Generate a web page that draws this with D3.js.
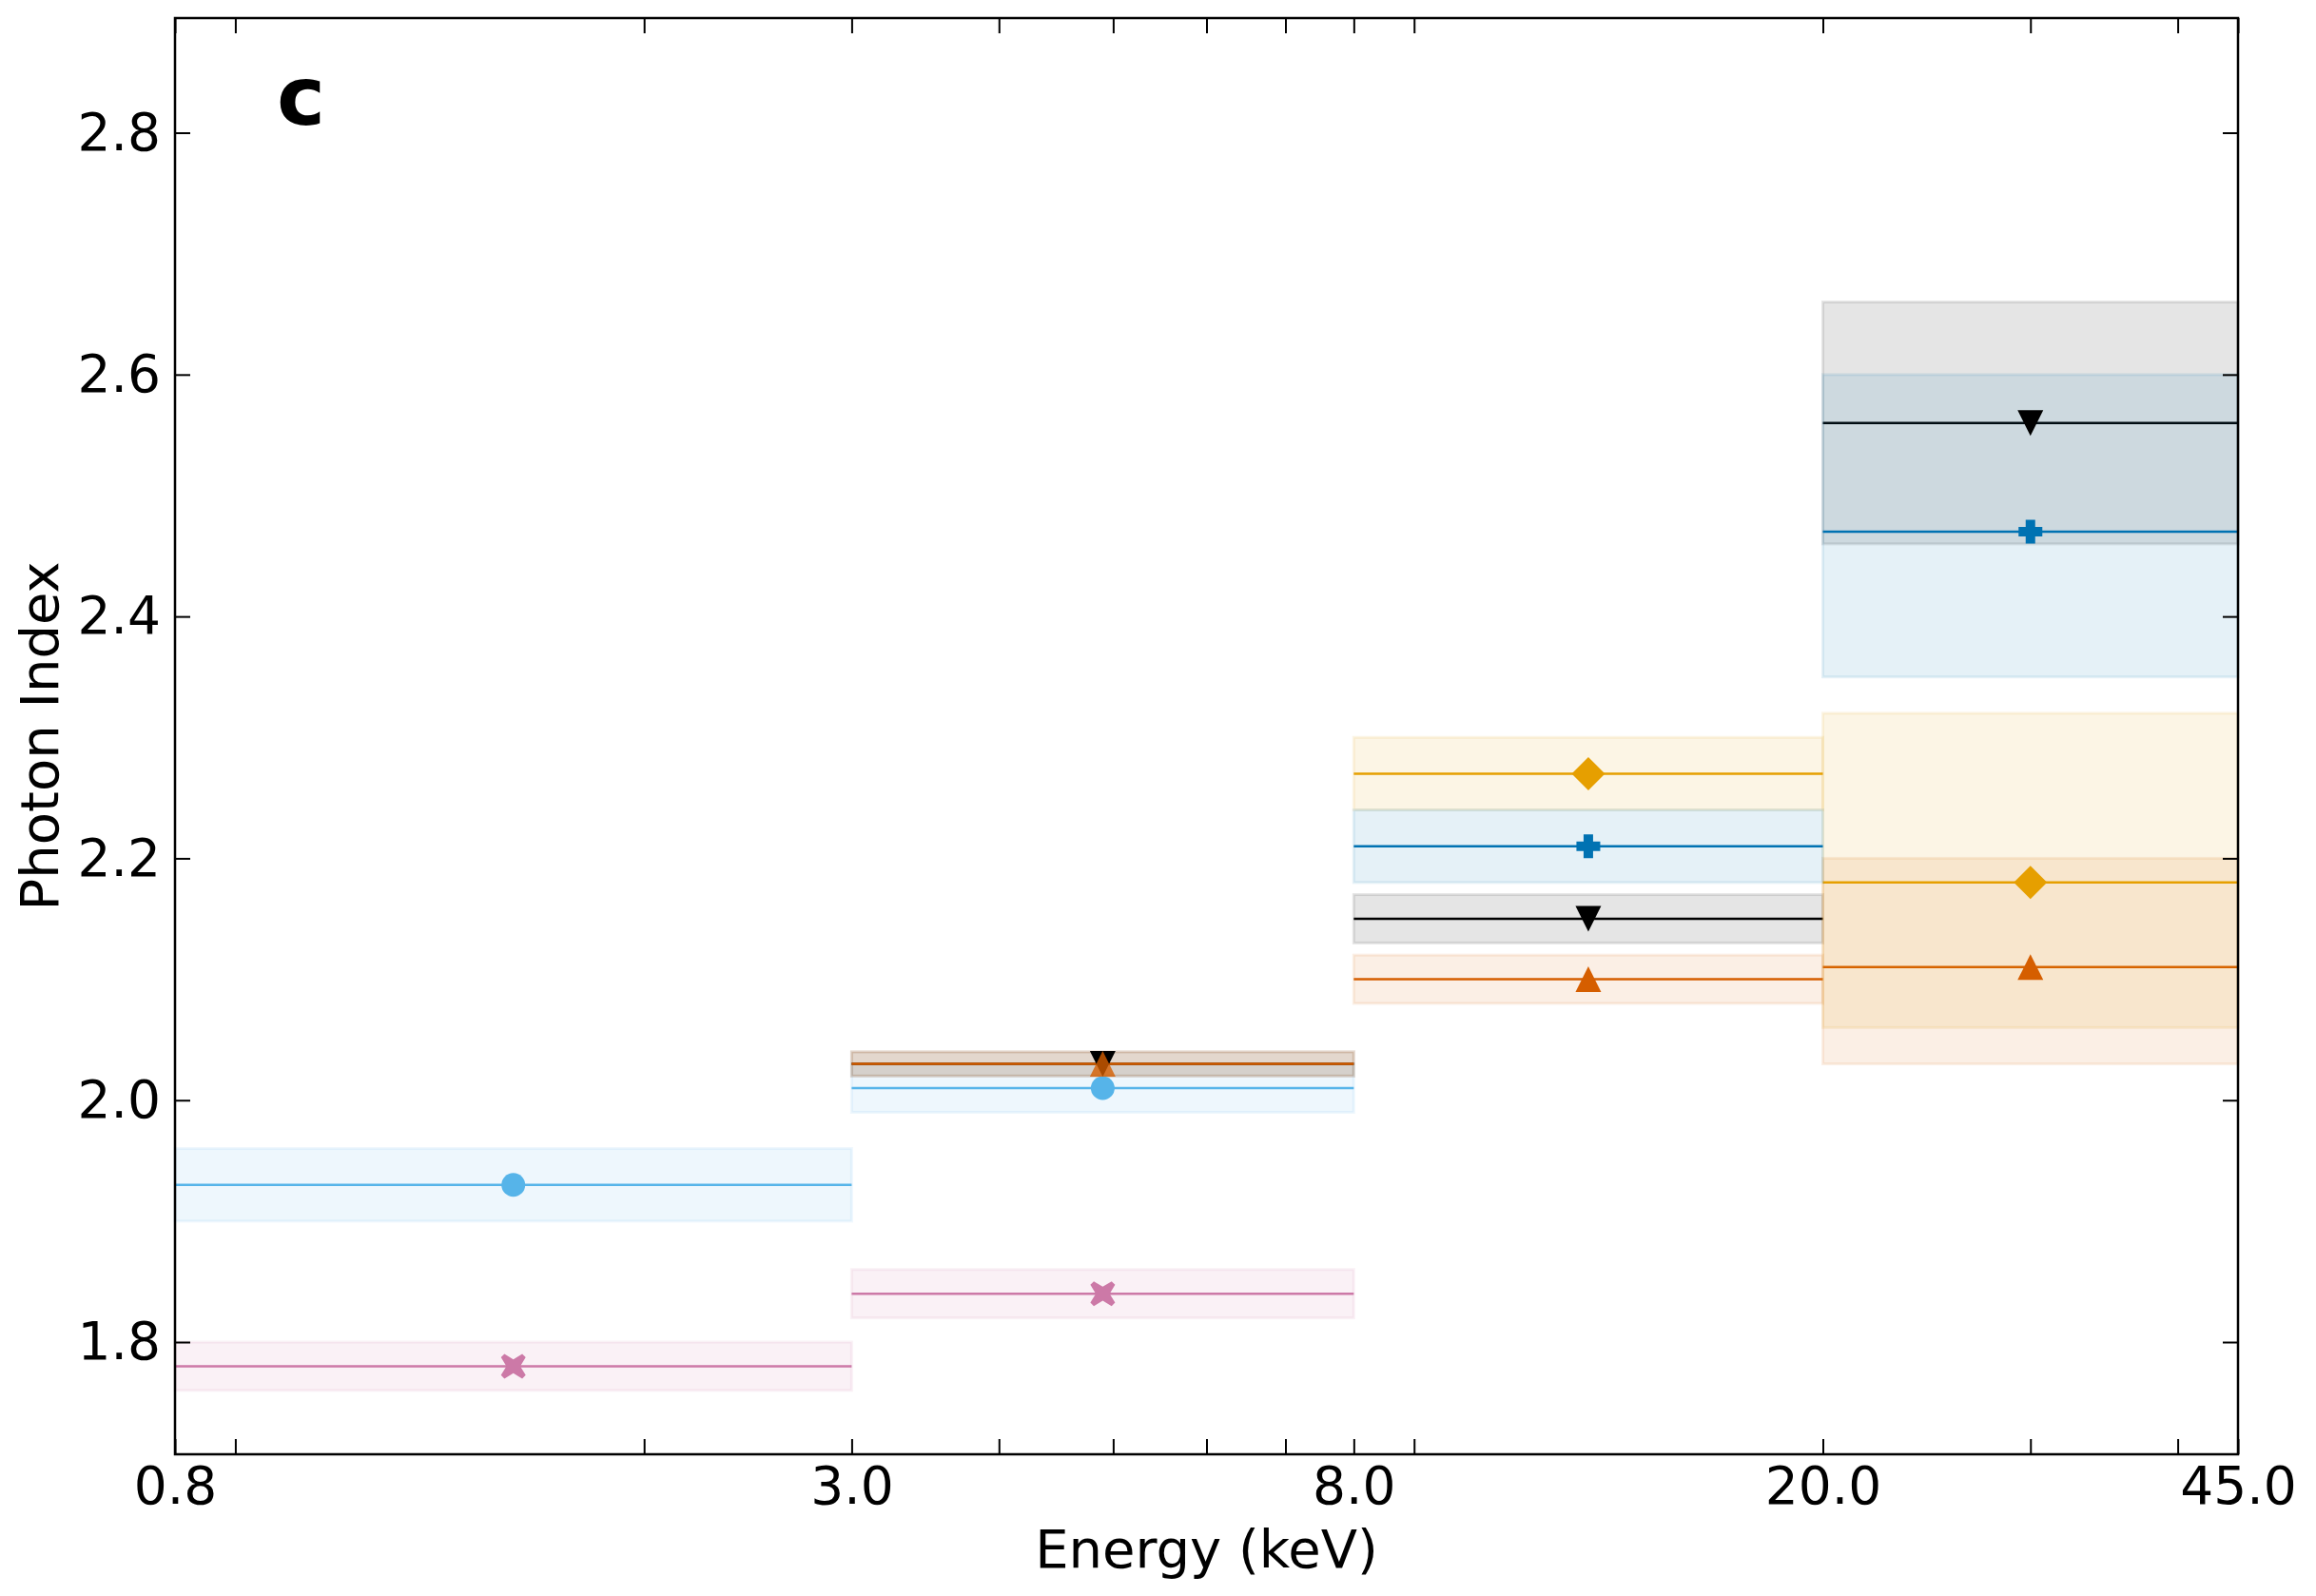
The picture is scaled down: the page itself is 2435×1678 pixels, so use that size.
<!DOCTYPE html>
<html>
<head>
<meta charset="utf-8">
<script src="https://cdn.jsdelivr.net/npm/d3@7"></script>
<style>
  body { margin: 0; background: #fff; }
  text { font-family: "DejaVu Sans", sans-serif; }
</style>
</head>
<body>
<div class="container"></div>
<script>
// energy bins (keV) and axis ticks
const BIN_EDGES = [0.8, 3.0, 8.0, 20.0, 45.0];
const X_MAJOR_TICKS = [0.8, 3.0, 8.0, 20.0, 45.0];
const X_MINOR_TICKS = [0.9, 2, 4, 5, 6, 7, 9, 30, 40];
const Y_TICKS = [1.8, 2.0, 2.2, 2.4, 2.6, 2.8];

// photon index per bin, with lower / upper bounds
const skyBins = [0, 1];
const skyIndex = [1.93, 2.01];
const skyLow = [1.90, 1.99];
const skyHigh = [1.96, 2.03];

const pinkBins = [0, 1];
const pinkIndex = [1.78, 1.84];
const pinkLow = [1.76, 1.82];
const pinkHigh = [1.80, 1.86];

const blackBins = [1, 2, 3];
const blackIndex = [2.03, 2.15, 2.56];
const blackLow = [2.02, 2.13, 2.46];
const blackHigh = [2.04, 2.17, 2.66];

const vermBins = [1, 2, 3];
const vermIndex = [2.03, 2.10, 2.11];
const vermLow = [2.02, 2.08, 2.03];
const vermHigh = [2.04, 2.12, 2.20];

const orangeBins = [2, 3];
const orangeIndex = [2.27, 2.18];
const orangeLow = [2.24, 2.06];
const orangeHigh = [2.30, 2.32];

const blueBins = [2, 3];
const blueIndex = [2.21, 2.47];
const blueLow = [2.18, 2.35];
const blueHigh = [2.24, 2.60];

const WIDTH = 2435;
const HEIGHT = 1678;
const LEFT = 184, RIGHT = 2353, TOP = 19, BOTTOM = 1529;
const TICK = 16;

var translate = function(x, y){
  return "translate(" + x + "," + y + ")";
};

// matplotlib-like filled markers, size = full width in px
var markers = {
  circle: { draw: function(c, s){ var r = s / 2; c.moveTo(r, 0); c.arc(0, 0, r, 0, 2 * Math.PI); } },
  triUp: { draw: function(c, s){ var h = s / 2; c.moveTo(0, -h); c.lineTo(h, h); c.lineTo(-h, h); c.closePath(); } },
  triDown: { draw: function(c, s){ var h = s / 2; c.moveTo(0, h); c.lineTo(h, -h); c.lineTo(-h, -h); c.closePath(); } },
  diamond: { draw: function(c, s){ var h = s / 2; c.moveTo(0, -h); c.lineTo(h, 0); c.lineTo(0, h); c.lineTo(-h, 0); c.closePath(); } },
  plus: { draw: function(c, s){
    var h = s / 2, a = s * 0.2;
    c.moveTo(-a, -h); c.lineTo(a, -h); c.lineTo(a, -a); c.lineTo(h, -a); c.lineTo(h, a); c.lineTo(a, a);
    c.lineTo(a, h); c.lineTo(-a, h); c.lineTo(-a, a); c.lineTo(-h, a); c.lineTo(-h, -a); c.lineTo(-a, -a); c.closePath();
  } },
  cross: { draw: function(c, s){
    var h = s / 2, a = s * 0.14;
    var pts = [[0, -a - a], [h - a, -h], [h, -h + a], [a + a, 0], [h, h - a], [h - a, h],
               [0, a + a], [-h + a, h], [-h, h - a], [-a - a, 0], [-h, -h + a], [-h + a, -h]];
    c.moveTo(pts[0][0], pts[0][1]);
    for (var i = 1; i < pts.length; i++) c.lineTo(pts[i][0], pts[i][1]);
    c.closePath();
  } }
};

var series = [
  { color: "#56B4E9", marker: "circle", size: 25, bins: skyBins, val: skyIndex, lo: skyLow, hi: skyHigh },
  { color: "#CC79A7", marker: "cross", size: 26, bins: pinkBins, val: pinkIndex, lo: pinkLow, hi: pinkHigh },
  { color: "#000000", marker: "triDown", size: 27, bins: blackBins, val: blackIndex, lo: blackLow, hi: blackHigh },
  { color: "#D55E00", marker: "triUp", size: 27, bins: vermBins, val: vermIndex, lo: vermLow, hi: vermHigh },
  { color: "#E69F00", marker: "diamond", size: 35, bins: orangeBins, val: orangeIndex, lo: orangeLow, hi: orangeHigh },
  { color: "#0072B2", marker: "plus", size: 25, bins: blueBins, val: blueIndex, lo: blueLow, hi: blueHigh }
];

var _xScale = d3.scaleLog()
  .domain([BIN_EDGES[0], BIN_EDGES[BIN_EDGES.length - 1]])
  .range([LEFT, RIGHT]);

var _yScale = d3.scaleLinear()
  .domain([1.7072, 2.8948])
  .range([BOTTOM, TOP]);

var generateChart = function(){
  var svg = d3.select('.container').append('svg')
    .attr("width", WIDTH)
    .attr("height", HEIGHT)
    .style("display", "block");

  svg.append('rect').attr('width', WIDTH).attr('height', HEIGHT).attr('fill', '#fff');

  var plot = svg.append('g');
  var drawn = [];

  series.forEach(function(s){
    s.bins.forEach(function(b, i){
      var x0 = _xScale(BIN_EDGES[b]), x1 = _xScale(BIN_EDGES[b + 1]);
      // error band
      plot.append('rect')
        .attr('x', x0)
        .attr('y', _yScale(s.hi[i]))
        .attr('width', x1 - x0)
        .attr('height', _yScale(s.lo[i]) - _yScale(s.hi[i]))
        .attr('fill', s.color)
        .attr('fill-opacity', 0.1)
        .attr('stroke', s.color)
        .attr('stroke-opacity', 0.1)
        .attr('stroke-width', 3);
      // bin line
      plot.append('line')
        .attr('x1', x0).attr('x2', x1)
        .attr('y1', _yScale(s.val[i])).attr('y2', _yScale(s.val[i]))
        .attr('stroke', s.color)
        .attr('stroke-width', 2.5);
    });
  });

  series.forEach(function(s){
    s.bins.forEach(function(b, i){
      var xc = _xScale(Math.sqrt(BIN_EDGES[b] * BIN_EDGES[b + 1]));
      var key = b + ":" + s.val[i];
      var overlap = drawn.indexOf(key) >= 0;
      drawn.push(key);
      plot.append('path')
        .attr('d', d3.symbol().type(markers[s.marker]).size(s.size)())
        .attr('transform', translate(xc, _yScale(s.val[i])))
        .attr('fill', s.color)
        .attr('fill-opacity', overlap ? 0.8 : 1);
    });
  });

  // axes, ticks pointing inwards on all sides
  var styleAxis = function(g){
    g.select('.domain').remove();
    g.selectAll('.tick line').attr('stroke', '#000').attr('stroke-width', 2);
    g.selectAll('.tick text').attr('font-size', 55).attr('fill', '#000');
  };

  svg.append('g')
    .attr('transform', translate(0, BOTTOM))
    .call(d3.axisBottom(_xScale).tickValues(X_MAJOR_TICKS).tickFormat(d3.format(".1f"))
      .tickSizeInner(-TICK).tickSizeOuter(0).tickPadding(13))
    .call(styleAxis);
  svg.append('g')
    .attr('transform', translate(0, BOTTOM))
    .call(d3.axisBottom(_xScale).tickValues(X_MINOR_TICKS).tickFormat("")
      .tickSizeInner(-TICK).tickSizeOuter(0))
    .call(styleAxis);
  svg.append('g')
    .attr('transform', translate(0, TOP))
    .call(d3.axisTop(_xScale).tickValues(X_MAJOR_TICKS.concat(X_MINOR_TICKS)).tickFormat("")
      .tickSizeInner(-TICK).tickSizeOuter(0))
    .call(styleAxis);
  svg.append('g')
    .attr('transform', translate(LEFT, 0))
    .call(d3.axisLeft(_yScale).tickValues(Y_TICKS).tickFormat(d3.format(".1f"))
      .tickSizeInner(-TICK).tickSizeOuter(0).tickPadding(15))
    .call(styleAxis);
  svg.append('g')
    .attr('transform', translate(RIGHT, 0))
    .call(d3.axisRight(_yScale).tickValues(Y_TICKS).tickFormat("")
      .tickSizeInner(-TICK).tickSizeOuter(0))
    .call(styleAxis);

  // frame
  svg.append('rect')
    .attr('x', LEFT).attr('y', TOP)
    .attr('width', RIGHT - LEFT).attr('height', BOTTOM - TOP)
    .attr('fill', 'none')
    .attr('stroke', '#000')
    .attr('stroke-width', 2.5);

  // labels
  svg.append('text')
    .attr('x', (LEFT + RIGHT) / 2).attr('y', 1648)
    .attr('text-anchor', 'middle')
    .attr('font-size', 56)
    .text('Energy (keV)');

  svg.append('text')
    .attr('transform', translate(61, (TOP + BOTTOM) / 2) + " rotate(-90)")
    .attr('text-anchor', 'middle')
    .attr('font-size', 56)
    .text('Photon Index');

  svg.append('text')
    .attr('x', 291).attr('y', 131)
    .attr('font-size', 86)
    .attr('font-weight', 'bold')
    .text('c');
};

window.onload = generateChart;
</script>
</body>
</html>
